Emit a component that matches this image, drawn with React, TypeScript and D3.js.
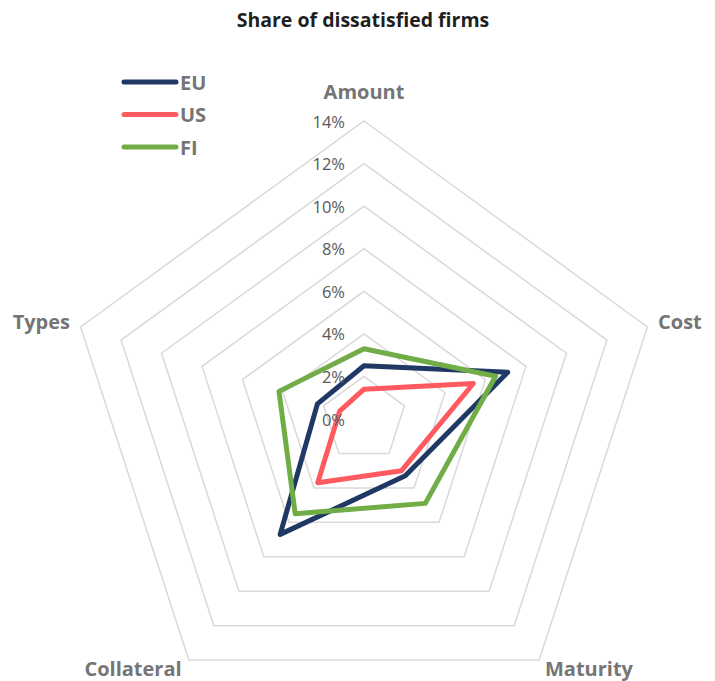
import { scaleLinear, lineRadial, curveLinearClosed } from 'd3'

// Radar of dissatisfied-firm shares, Excel-style: pentagon grid, no fill.

const AXES = ['Amount', 'Cost', 'Maturity', 'Collateral', 'Types']
const TICKS = [0, 2, 4, 6, 8, 10, 12, 14]
const SERIES_NAMES = ['EU', 'US', 'FI']
const EU = [2.5, 7.1, 3.3, 6.7, 2.3]
const US = [1.4, 5.4, 3.0, 3.7, 1.2]
const FI = [3.3, 6.5, 4.9, 5.5, 4.2]
const COLORS = ['#1f3864', '#ff5a5f', '#70ad47']

const W = 715
const H = 681
const CX = 364
const CY = 419
const R = 298
const FONT = '"Open Sans", "Noto Sans", sans-serif'
const GRID = '#d9d9d9'
const LABEL = '#757575'

export default function App() {
  const r = scaleLinear().domain([0, 14]).range([0, R])
  const ang = (i: number) => (i * 2 * Math.PI) / AXES.length
  const series = [EU, US, FI]
  const radial = lineRadial<number>()
    .angle((_, i) => ang(i))
    .radius((d) => r(d))
    .curve(curveLinearClosed)
  const ring = (v: number) =>
    lineRadial<string>()
      .angle((_, i) => ang(i))
      .radius(() => r(v))
      .curve(curveLinearClosed)(AXES)

  const labelPos = [
    { x: CX, y: 99, anchor: 'middle' },
    { x: 658, y: 329, anchor: 'start' },
    { x: 589, y: 676, anchor: 'middle' },
    { x: 133, y: 676, anchor: 'middle' },
    { x: 70, y: 329, anchor: 'end' },
  ]

  return (
    <svg width={W} height={H} style={{ position: 'absolute', left: 0, top: 0 }} fontFamily={FONT}>
      <rect width={W} height={H} fill="#fff" />
      <text x={CX - 1} y={27} textAnchor="middle" fontWeight={700} fontSize={19.5} fill="#1f1f1f">
        Share of dissatisfied firms
      </text>
      <g transform={`translate(${CX},${CY})`}>
        {TICKS.filter((t) => t > 0).map((t) => (
          <path key={t} d={ring(t) ?? ''} fill="none" stroke={GRID} strokeWidth={1.5} />
        ))}
        {series.map((s, k) => (
          <path
            key={SERIES_NAMES[k]}
            d={radial(s) ?? ''}
            fill="none"
            stroke={COLORS[k]}
            strokeWidth={5}
            strokeLinejoin="round"
          />
        ))}
        {TICKS.map((t) => (
          <text
            key={t}
            x={-19}
            y={-r(t)}
            textAnchor="end"
            dominantBaseline="central"
            fontSize={16.5}
            fill="#595959"
          >
            {t}%
          </text>
        ))}
      </g>
      {AXES.map((a, i) => (
        <text
          key={a}
          x={labelPos[i].x}
          y={labelPos[i].y}
          textAnchor={labelPos[i].anchor as 'start' | 'middle' | 'end'}
          fontWeight={700}
          fontSize={20}
          fill={LABEL}
        >
          {a}
        </text>
      ))}
      {SERIES_NAMES.map((n, k) => (
        <g key={n} transform={`translate(0,${82 + k * 32.5})`}>
          <line x1={124} x2={176} y1={0} y2={0} stroke={COLORS[k]} strokeWidth={5} strokeLinecap="round" />
          <text x={180} y={0} dominantBaseline="central" fontWeight={700} fontSize={20} fill={LABEL}>
            {n}
          </text>
        </g>
      ))}
    </svg>
  )
}
